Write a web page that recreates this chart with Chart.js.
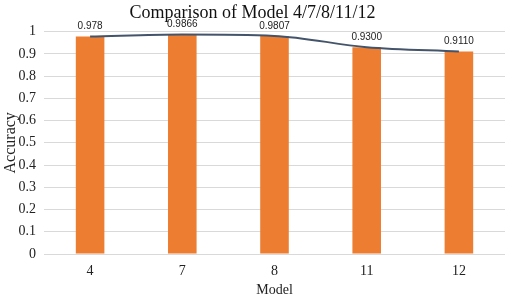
<!doctype html>
<html>
<head>
  <script src="https://cdn.jsdelivr.net/npm/chart.js@4.4.0/dist/chart.umd.min.js"></script>
  <style>
    html, body { margin: 0; padding: 0; background: #fff; }
    .chart { width: 505px; height: 296px; }
  </style>
</head>
<body>
  <div class="chart">
    <canvas id="myChart"></canvas>
  </div>
  <script>
    var models = ['4', '7', '8', '11', '12'];
    var accuracy = [0.978, 0.9866, 0.9807, 0.9300, 0.9110];
    var accuracyLabels = ['0.978', '0.9866', '0.9807', '0.9300', '0.9110'];
    var yTicks = [0, 0.1, 0.2, 0.3, 0.4, 0.5, 0.6, 0.7, 0.8, 0.9, 1];

    var serif = '"Liberation Serif", "DejaVu Serif", serif';

    // draws the value text above each point of the line
    var valueLabels = {
      id: 'valueLabels',
      afterDatasetsDraw: function(chart) {
        var meta = chart.getDatasetMeta(1);
        var ctx = chart.ctx;
        ctx.save();
        ctx.font = '10px "Liberation Sans", Arial, sans-serif';
        ctx.fillStyle = '#222';
        ctx.textAlign = 'center';
        ctx.textBaseline = 'bottom';
        meta.data.forEach(function(pt, i) {
          ctx.fillText(accuracyLabels[i], pt.x, pt.y - 5);
        });
        ctx.restore();
      }
    };

    var config = {
      data: {
        labels: models,
        datasets: [{
          type: 'bar',
          data: accuracy,
          backgroundColor: '#ED7D31',
          barPercentage: 0.62,
          categoryPercentage: 0.5,
          order: 2
        }, {
          type: 'line',
          data: accuracy,
          borderColor: '#44546A',
          borderWidth: 2,
          pointRadius: 0,
          tension: 0.35,
          cubicInterpolationMode: 'monotone',
          fill: false,
          order: 1
        }]
      },
      options: {
        responsive: true,
        maintainAspectRatio: false,
        animation: false,
        layout: { padding: 0 },
        plugins: {
          legend: { display: false },
          tooltip: { enabled: false },
          title: {
            display: true,
            text: 'Comparison of Model 4/7/8/11/12',
            color: '#111',
            font: { family: serif, size: 18, weight: 'normal' },
            padding: { top: 2, bottom: 8 }
          }
        },
        scales: {
          x: {
            grid: { display: false, drawTicks: false },
            border: { display: false },
            afterFit: function(axis) { axis.height = 42; },
            ticks: {
              color: '#222',
              font: { family: serif, size: 14 },
              padding: 9,
              maxRotation: 0,
              minRotation: 0
            },
            title: {
              display: true,
              text: 'Model',
              color: '#222',
              font: { family: serif, size: 14 },
              padding: { top: 0, bottom: -3 }
            }
          },
          y: {
            min: 0,
            max: 1,
            afterBuildTicks: function(axis) {
              axis.ticks = yTicks.map(function(v) { return { value: v }; });
            },
            afterFit: function(axis) { axis.width = 44; },
            grid: { color: '#d9d9d9', drawTicks: false },
            border: { display: false },
            ticks: {
              color: '#222',
              font: { family: serif, size: 14 },
              padding: 8,
              callback: function(v) { return String(Math.round(v * 10) / 10); }
            },
            title: {
              display: true,
              text: 'Accuracy',
              color: '#222',
              font: { family: serif, size: 16 },
              padding: { top: 1, bottom: 0 }
            }
          }
        }
      },
      plugins: [valueLabels]
    };

    window.onload = function() {
      var ctx = document.getElementById('myChart').getContext('2d');
      window.myChart = new Chart(ctx, config);
    };
  </script>
</body>
</html>
